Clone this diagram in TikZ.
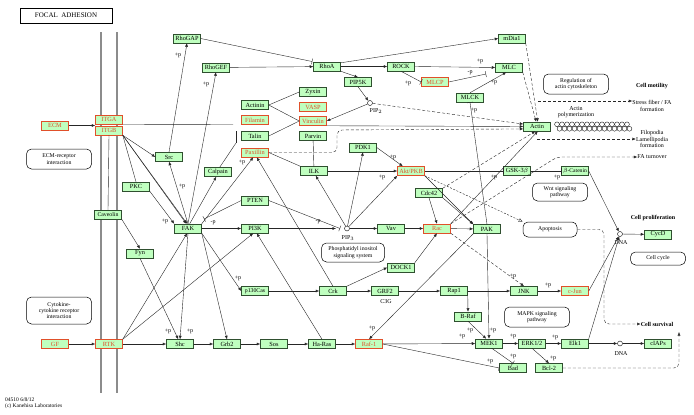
\documentclass[tikz,border=0pt]{standalone}
\usepackage{fontspec}
\setmainfont{Liberation Serif}
\usetikzlibrary{arrows.meta}
\definecolor{kg}{HTML}{BFFFBF}
\definecolor{kr}{HTML}{E0502A}
\definecolor{kb}{HTML}{2F4F2F}
\begin{document}
\begin{tikzpicture}[x=1pt,y=-1pt,
  every node/.style={font=\fontsize{6.3}{7}\selectfont},
  gn/.style={draw=kb, fill=kg, minimum width=27pt, minimum height=9pt, inner sep=0pt, line width=0.5pt, font=\fontsize{6.3}{7}\selectfont},
  rn/.style={gn, draw=kr, text=kr},
  pw/.style={draw, rounded corners=5pt, align=center, inner sep=0pt, line width=0.5pt, font=\fontsize{5.8}{6.3}\selectfont},
  lab/.style={inner sep=0pt, font=\fontsize{6}{7}\selectfont},
  txt/.style={inner sep=0pt, align=center, font=\fontsize{6}{6.4}\selectfont},
  bl/.style={inner sep=0pt, font=\bfseries\fontsize{6}{7}\selectfont},
  ln/.style={line width=0.4pt, draw=black!85},
  ar/.style={ln, -{Latex[length=3.5pt,width=3pt]}},
  inh/.style={ln, -{Bar[width=6pt]}},
  da/.style={ar, dash pattern=on 3pt off 2pt},
  dl/.style={ln, dash pattern=on 3pt off 2pt},
  cp/.style={circle, draw, minimum size=5pt, inner sep=0pt, line width=0.4pt},
  mem/.style={line width=2.6pt, draw=black!45}
]
\fill[white] (0,0) rectangle (694,415);
\useasboundingbox (0,0) rectangle (694,415);

% title
\node[draw, line width=0.9pt, minimum width=92pt, minimum height=15pt, inner sep=0pt, font=\fontsize{7}{8}\selectfont] (title) at (66,15.5) {FOCAL\ \ ADHESION};

% membrane
\draw[mem] (101,32) -- (101,393);
\draw[mem] (117,32) -- (117,393);

% genes
\node[rn] (ECM) at (55,125.5) {ECM};
\node[rn] (ITGA) at (109,119.5) {ITGA};
\node[rn] (ITGB) at (109,130.5) {ITGB};
\node[gn] (RhoGAP) at (187,38.5) {RhoGAP};
\node[gn] (RhoGEF) at (216,67.5) {RhoGEF};
\node[gn] (RhoA) at (327,66.5) {RhoA};
\node[gn] (ROCK) at (401,66.5) {ROCK};
\node[rn] (MLCP) at (435,82) {MLCP};
\node[gn] (PIP5K) at (358,82) {PIP5K};
\node[gn] (mDia1) at (512,38.5) {mDia1};
\node[gn] (MLC) at (509,67.5) {MLC};
\node[gn] (MLCK) at (470,97.5) {MLCK};
\node[gn] (Actin) at (537,126.5) {Actin};
\node[gn] (Zyxin) at (313,92) {Zyxin};
\node[rn] (VASP) at (313,107) {VASP};
\node[gn] (Actinin) at (255,105) {Actinin};
\node[rn] (Filamin) at (255,120) {Filamin};
\node[rn] (Vinculin) at (313,121) {Vinculin};
\node[gn] (Talin) at (255,136) {Talin};
\node[gn] (Parvin) at (313,136) {Parvin};
\node[rn] (Paxillin) at (255,152.5) {Paxillin};
\node[gn] (PDK1) at (363,147.5) {PDK1};
\node[gn] (ILK) at (314,171) {ILK};
\node[rn] (Akt) at (411,171) {Akt/PKB};
\node[gn] (GSK) at (517,171) {GSK-3$\beta$};
\node[gn, font=\fontsize{5.6}{6}\selectfont] (bCat) at (575,171) {$\beta$-Catenin};
\node[gn] (Src) at (169,157) {Src};
\node[gn] (Calpain) at (218,172) {Calpain};
\node[gn] (PKC) at (136,186.5) {PKC};
\node[gn, font=\fontsize{5.8}{6}\selectfont] (Caveolin) at (108,214.5) {Caveolin};
\node[gn] (FAK) at (188,228.5) {FAK};
\node[gn] (Fyn) at (140,253.5) {Fyn};
\node[gn] (PTEN) at (255,200.5) {PTEN};
\node[gn] (PI3K) at (255,228.5) {PI3K};
\node[gn] (Cdc42) at (429,193) {Cdc42};
\node[gn] (Vav) at (391,228.5) {Vav};
\node[rn] (Rac) at (437,228.5) {Rac};
\node[gn] (PAK) at (487,229) {PAK};
\node[gn] (DOCK1) at (401,267.5) {DOCK1};
\node[gn, font=\fontsize{5.8}{6}\selectfont] (p130Cas) at (255,291) {p130Cas};
\node[gn] (Crk) at (333,291) {Crk};
\node[gn] (GRF2) at (385,291) {GRF2};
\node[gn] (Rap1) at (454,291) {Rap1};
\node[gn] (JNK) at (524,291) {JNK};
\node[rn] (cJun) at (575,291) {c-Jun};
\node[gn] (BRaf) at (468,316.5) {B-Raf};
\node[rn] (GF) at (55,344) {GF};
\node[rn] (RTK) at (109,344) {RTK};
\node[gn] (Shc) at (180,344) {Shc};
\node[gn] (Grb2) at (227,344) {Grb2};
\node[gn] (Sos) at (274,344) {Sos};
\node[gn] (HaRas) at (322,344) {Ha-Ras};
\node[rn] (Raf1) at (369,344) {Raf-1};
\node[gn] (MEK1) at (489,343.5) {MEK1};
\node[gn] (ERK) at (532,343.5) {ERK1/2};
\node[gn] (Elk1) at (575,343.5) {Elk1};
\node[gn] (cIAPs) at (658,343.5) {cIAPs};
\node[gn] (Bad) at (513,368) {Bad};
\node[gn] (Bcl2) at (549,368) {Bcl-2};
\node[gn] (CycD) at (658,234.5) {CycD};

% compounds
\node[cp] (PIP2) at (370,103) {};
\node[lab] (PIP2l) at (376,111) {PIP$_2$};
\node[cp] (PIP3) at (347,228.5) {};
\node[lab] (PIP3l) at (348,238) {PIP$_3$};
\node[cp] (DNA1) at (620,234) {};
\node[lab] (DNA1l) at (621,243) {DNA};
\node[cp] (DNA2) at (620,343.5) {};
\node[lab] (DNA2l) at (621,354) {DNA};
\node[lab] (C3G) at (386,302) {C3G};

% pathway boxes
\node[pw, minimum width=65pt, minimum height=20pt] (ECMr) at (59,159) {ECM-receptor\\interaction};
\node[pw, minimum width=65pt, minimum height=27pt] (Cyto) at (59,310.5) {Cytokine-\\cytokine receptor\\interaction};
\node[pw, minimum width=65pt, minimum height=20pt] (Reg) at (576,84) {Regulation of\\actin cytoskeleton};
\node[pw, minimum width=63pt, minimum height=19pt] (PIS) at (353,252.5) {Phosphatidyl inositol\\signaling system};
\node[pw, minimum width=55pt, minimum height=18pt] (Wnt) at (560,192) {Wnt signaling\\pathway};
\node[pw, minimum width=54pt, minimum height=15pt] (Apop) at (550,229.5) {Apoptosis};
\node[pw, minimum width=65pt, minimum height=20pt] (MAPK) at (537,317) {MAPK signaling\\pathway};
\node[pw, minimum width=55pt, minimum height=13pt] (CC) at (658,258.5) {Cell cycle};

% outcome labels
\node[bl] (CM) at (652,86) {Cell motility};
\node[bl] (CP) at (653,218) {Cell proliferation};
\node[bl] (CS) at (657,324) {Cell survival};
\node[txt] (SF) at (652,106) {Stress fiber / FA\\formation};
\node[txt] (AP) at (576,112) {Actin\\polymerization};
\node[txt] (FL) at (652,139) {Filopodia\\Lamellipodia\\formation};
\node[txt] (FAT) at (652,157) {FA turnover};

% actin filament
\foreach \i in {0,...,14} {
  \draw[line width=0.35pt] (557+5*\i,124.3) circle (2.4pt);
  \draw[line width=0.35pt] (559.5+5*\i,128.8) circle (2.4pt);
}

% footer
\node[lab, anchor=west, align=left, font=\fontsize{5.5}{6.5}\selectfont] (foot) at (5,403.5) {04510 6/8/12\\(c) Kanehisa Laboratories};

% coordinates
\coordinate (itgend) at (233,124.5);
\coordinate (tb1) at (236,131);
\coordinate (tb2) at (236,143);
\coordinate (fakbar) at (204,219);
\coordinate (pip3bar) at (340,228.5);
\coordinate (pip3arr) at (336,228.5);
\coordinate (mlcbar) at (486,74);
\coordinate (paxc1) at (337,152.5);
\coordinate (paxc2) at (337,130);
\coordinate (sfs) at (538,101);
\coordinate (fls) at (537,139);
\coordinate (fat1) at (557,157);
\coordinate (ap1) at (604,229.5);
\coordinate (ap2) at (604,324);
\coordinate (bc1) at (679,368);
\coordinate (bc2) at (679,332);

% integrin internals
\draw[ln] (ITGB.south) -- (Caveolin.north);
\draw[ar] (ECM.east) -- (ECM.east -| ITGA.west);
\draw[ln] (ITGA.south east) -- (itgend);
\draw[ln] (tb1) -- (tb2);
\draw[ar] (GF) -- (RTK);

% ITGB fan
\draw[ar] (ITGB.south east) -- (Src.west);
\draw[ln] (ITGB.south east) -- (PKC.north);
\draw[ar] (ITGB.south east) -- (FAK.110);
\draw[ar] (ITGB.south east) -- (FAK.100);
\draw[ar] (PKC.south east) -- (FAK.north west);
\draw[ar] (FAK.north) -- (Src.south);
\draw[ar] (Src.north) -- (RhoGAP.south);
\draw[ar] (FAK.north) -- (RhoGEF.south);
\draw[ar] (FAK.70) -- (Calpain.250);
\draw[ln] (Calpain.70) -- (tb2);
\draw[ar] (FAK.north east) -- (Paxillin.250);
\draw[inh] (PTEN.west) -- (fakbar);
\draw[ar] (FAK) -- (PI3K);
\draw[inh] (PTEN.east) -- (pip3bar);
\draw[ar] (PI3K) -- (pip3arr);
\draw[ar] (Caveolin.south east) -- (Fyn.north);
\draw[ar] (Fyn.south) -- (Shc.110);
\draw[ar] (FAK.south) -- (Shc.north);
\draw[ar] (FAK.south east) -- (Grb2.north);
\draw[ar] (FAK.south east) -- (p130Cas.west);
\draw[ar] (RTK.north east) -- (FAK.260);
\draw[ar] (RTK.north east) -- (PI3K.250);
\draw[ar] (RTK) -- (Shc);
\draw[ar] (Shc) -- (Grb2);
\draw[ar] (Grb2) -- (Sos);
\draw[ar] (Sos) -- (HaRas);
\draw[ar] (HaRas) -- (Raf1);
\draw[ar] (HaRas.north) -- (PI3K.290);
\draw[ar] (Crk.north) -- (Paxillin.290);

% PIP3 branch
\draw[ar] (PIP3) -- (Vav);
\draw[ar] (PIP3) -- (ILK.290);
\draw[ar] (PIP3) -- (PDK1.south);
\draw[ar] (PIP3) -- (Akt.south west);
\draw[ar] (PDK1.east) -- (Akt.150);
\draw[ar] (ILK) -- (Akt);
\draw[ln] (Parvin) -- (ILK);
\draw[ln] (Paxillin.east) -- (ILK.north west);
\draw[inh] (Akt) -- (GSK);
\draw[inh] (GSK) -- (bCat);
\draw[ln, dash pattern=on 2pt off 1.5pt, -{Latex[open,length=4pt,width=4pt]}] (Akt.south east) -- (Apop.north west);
\draw[ar] (Akt.south east) -- (PAK.north west);
\draw[ar] (Cdc42.south) -- (Rac.north);
\draw[ar] (Cdc42.south east) -- (PAK.north west);
\draw[ar] (Vav) -- (Rac);
\draw[ar] (Rac) -- (PAK);
\draw[ar] (DOCK1.north east) -- (Rac.south);
\draw[ar] (Crk.north east) -- (DOCK1.west);
\draw[ar] (p130Cas) -- (Crk);
\draw[ar] (Crk) -- (GRF2);
\draw[ar] (GRF2) -- (Rap1);
\draw[ar] (Rap1) -- (JNK);
\draw[ar] (JNK) -- (cJun);
\draw[ar] (Rap1.south east) -- (BRaf.north);
\draw[ar] (BRaf.south) -- (MEK1.120);
\draw[ar] (Raf1) -- (MEK1);
\draw[ar] (PAK.south) -- (MEK1.north);
\draw[inh] (PAK.north) -- (MLCK.south);
\draw[ar] (MLCK.north) -- (MLC.240);
\draw[ar] (ROCK.east) -- (MLC.west);
\draw[inh] (ROCK.south) -- (MLCP.west);
\draw[inh] (MLCP.east) -- (mlcbar);
\draw[ar] (RhoA) -- (ROCK);
\draw[ar] (RhoA.south east) -- (PIP5K.north);
\draw[ar] (PIP5K.south) -- (PIP2);
\draw[ar] (RhoA.15) -- (mDia1.west);
\draw[ar] (RhoGEF) -- (RhoA);
\draw[inh, shorten >=1pt] (RhoGAP.east) -- (RhoA.north west);
\draw[ar] (PIP2) -- (Vinculin.east);
\draw[da] (PIP2) -- (Actin.170);
\draw[ar] (Vinculin.south east) -- (Actin.west);
\draw[da, rounded corners=5pt] (Paxillin.east) -- (paxc1) -- (paxc2) -- (Actin.190);
\draw[da] (mDia1.south east) -- (Actin.80);
\draw[da] (MLC.south east) -- (Actin.100);
\draw[ln] (Actinin.east) -- (Zyxin.west);
\draw[ln] (Actinin.east) -- (Vinculin.west);
\draw[ln] (Talin.east) -- (Vinculin.west);
\draw[da] (Cdc42.north east) -- (Actin.250);
\draw[ar] (Rac.north east) -- (Actin.280);

% outcomes
\draw[da] (sfs) -- (sfs -| SF.west);
\draw[da] (fls) -- (fls -| FL.west);
\draw[da, rounded corners=5pt] (Rac.north east) -- (fat1) -- (FAT.west);
\draw[da, rounded corners=5pt] (Apop.east) -- (ap1) -- (ap2) -- (CS.west);
\draw[da, rounded corners=5pt] (Bcl2.east) -- (bc1) -- (bc2);

% MAPK part
\draw[da] (Rac.south east) -- (JNK.north);
\draw[ar] (PAK.south west) -- (Raf1.north);
\draw[inh] (Raf1.east) -- (Bad.west);
\draw[inh] (MEK1.300) -- (Bad.north);
\draw[ar] (MEK1) -- (ERK);
\draw[ar] (ERK) -- (Elk1);
\draw[ar] (ERK.south) -- (Bcl2.north);
\draw[ar] (Elk1) -- (DNA2);
\draw[ar] (DNA2) -- (cIAPs);
\draw[ar] (cJun.east) -- (DNA1);
\draw[ar] (Elk1.north east) -- (DNA1);
\draw[ar] (bCat.east) -- (DNA1);
\draw[ar] (DNA1) -- (CycD);

% +p / -p labels
\node[lab] (l1) at (178,55) {+p};
\node[lab] (l2) at (206,84) {+p};
\node[lab] (l3) at (182,186) {+p};
\node[lab] (l4) at (165,221) {+p};
\node[lab] (l5) at (242,162) {+p};
\node[lab] (l6) at (213,223) {-p};
\node[lab] (l7) at (318,222) {-p};
\node[lab] (l8) at (393,157) {+p};
\node[lab] (l9) at (382,177) {+p};
\node[lab] (l10) at (494,177) {+p};
\node[lab] (l11) at (557,177) {+p};
\node[lab] (l12) at (408,83) {+p};
\node[lab] (l13) at (480,61) {+p};
\node[lab] (l14) at (470,73) {-p};
\node[lab] (l15) at (494,82) {+p};
\node[lab] (l16) at (474,110) {+p};
\node[lab] (l17) at (238,278) {+p};
\node[lab] (l18) at (168,331) {+p};
\node[lab] (l19) at (190,331) {+p};
\node[lab] (l20) at (372,328) {+p};
\node[lab] (l21) at (462,336) {+p};
\node[lab] (l22) at (470,330) {+p};
\node[lab] (l23) at (493,330) {+p};
\node[lab] (l24) at (513,336) {+p};
\node[lab] (l25) at (555,337) {+p};
\node[lab] (l26) at (513,356) {+p};
\node[lab] (l27) at (490,361) {+p};
\node[lab] (l28) at (553,358) {+p};
\node[lab] (l29) at (513,276) {+p};
\node[lab] (l30) at (548,285) {+p};
\end{tikzpicture}
\end{document}
